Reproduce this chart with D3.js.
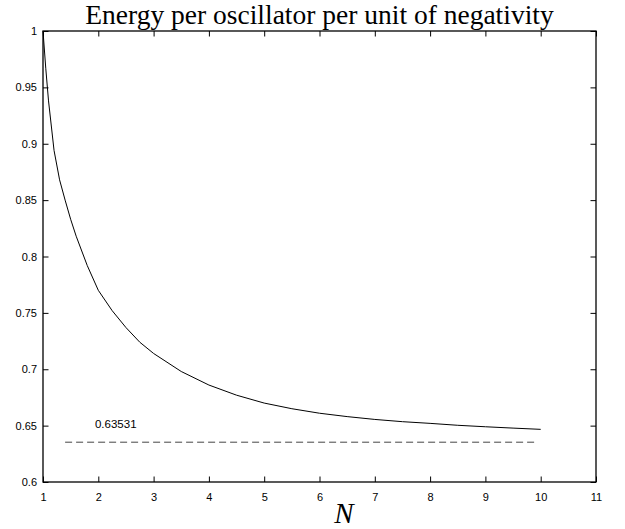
<!DOCTYPE html>
<html>
<head>
<meta charset="utf-8">
<script src="https://cdn.jsdelivr.net/npm/d3@7"></script>
<style>
  body { margin: 0; background: #fff; }
  svg { display: block; }
</style>
</head>
<body>
<svg id="chart" width="625" height="529"></svg>
<script>
// ---- data ----
const nValues = [1, 1.05, 1.1, 1.2, 1.3, 1.4, 1.5, 1.6, 1.8, 2, 2.25, 2.5, 2.75, 3, 3.5, 4, 4.5, 5, 5.5, 6, 6.5, 7, 7.5, 8, 8.5, 9, 9.5, 10];
const energy  = [1.0, 0.967, 0.938, 0.894, 0.868, 0.850, 0.833, 0.818, 0.792, 0.770, 0.752, 0.737, 0.724, 0.714, 0.698, 0.686, 0.677, 0.670, 0.665, 0.661, 0.658, 0.6555, 0.6535, 0.652, 0.6503, 0.649, 0.6478, 0.6467];
const limitValue = 0.63531;
const limitRange = [1.4, 9.9];
const limitLabel = "0.63531";
const limitLabelPos = [1.94, 0.6475];
const xTicks = [1, 2, 3, 4, 5, 6, 7, 8, 9, 10, 11];
const yTicks = [0.6, 0.65, 0.7, 0.75, 0.8, 0.85, 0.9, 0.95, 1];
const yTickLabels = ["0.6", "0.65", "0.7", "0.75", "0.8", "0.85", "0.9", "0.95", "1"];
const title = "Energy per oscillator per unit of negativity";
const xLabel = "N";

// ---- layout ----
const L = 43, R = 596, T = 31, B = 482;
const svg = d3.select("#chart");
const x = d3.scaleLinear().domain([1, 11]).range([L, R]);
const y = d3.scaleLinear().domain([0.6, 1]).range([B, T]);
const tickLen = 5.5;
const tickFont = "Liberation Sans, Arial, Helvetica, sans-serif";

// axes with inward ticks
const axB = d3.axisBottom(x).tickValues(xTicks).tickSize(-tickLen).tickPadding(tickLen + 6).tickFormat(d3.format("d"));
const axT = d3.axisTop(x).tickValues(xTicks).tickSize(-tickLen).tickFormat("");
const axL = d3.axisLeft(y).tickValues(yTicks).tickSize(-tickLen).tickPadding(tickLen + 0.5).tickFormat((d, i) => yTickLabels[i]);
const axR = d3.axisRight(y).tickValues(yTicks).tickSize(-tickLen).tickFormat("");

function style(g) {
  g.selectAll("path.domain").attr("stroke", "#000").attr("stroke-width", 1);
  g.selectAll(".tick line").attr("stroke", "#000").attr("stroke-width", 1);
  g.selectAll(".tick text").attr("fill", "#000").style("font-family", tickFont).style("font-size", "11px");
}
svg.append("g").attr("transform", `translate(0,${B})`).call(axB).call(style);
svg.append("g").attr("transform", `translate(0,${T})`).call(axT).call(style);
svg.append("g").attr("transform", `translate(${L},0)`).call(axL).call(style);
svg.append("g").attr("transform", `translate(${R},0)`).call(axR).call(style);
svg.selectAll("path.domain").attr("d", null);
svg.append("rect").attr("x", L).attr("y", T).attr("width", R - L).attr("height", B - T)
  .attr("fill", "none").attr("stroke", "#000").attr("stroke-width", 1.3);

// curve
const data = nValues.map((n, i) => [n, energy[i]]);
svg.append("path").datum(data)
  .attr("fill", "none").attr("stroke", "#000").attr("stroke-width", 1)
  .attr("d", d3.line().x(d => x(d[0])).y(d => y(d[1])));

// dashed asymptote
svg.append("line")
  .attr("x1", x(limitRange[0])).attr("x2", x(limitRange[1]))
  .attr("y1", y(limitValue)).attr("y2", y(limitValue))
  .attr("stroke", "#444").attr("stroke-width", 1).attr("stroke-dasharray", "7,4");
svg.append("text").attr("x", x(limitLabelPos[0])).attr("y", y(limitLabelPos[1]))
  .style("font-family", tickFont).style("font-size", "11.5px").attr("fill", "#000")
  .text(limitLabel);

// title & x label
svg.append("text").attr("x", (L + R) / 2).attr("y", 24).attr("text-anchor", "middle")
  .style("font-family", "Liberation Serif, Times New Roman, serif").style("font-size", "27.5px").attr("fill", "#000")
  .text(title);
svg.append("text").attr("x", 344).attr("y", 523).attr("text-anchor", "middle")
  .style("font-family", "Liberation Serif, Times New Roman, serif").style("font-style", "italic").style("font-size", "29px").attr("fill", "#000")
  .text(xLabel);
</script>
</body>
</html>
